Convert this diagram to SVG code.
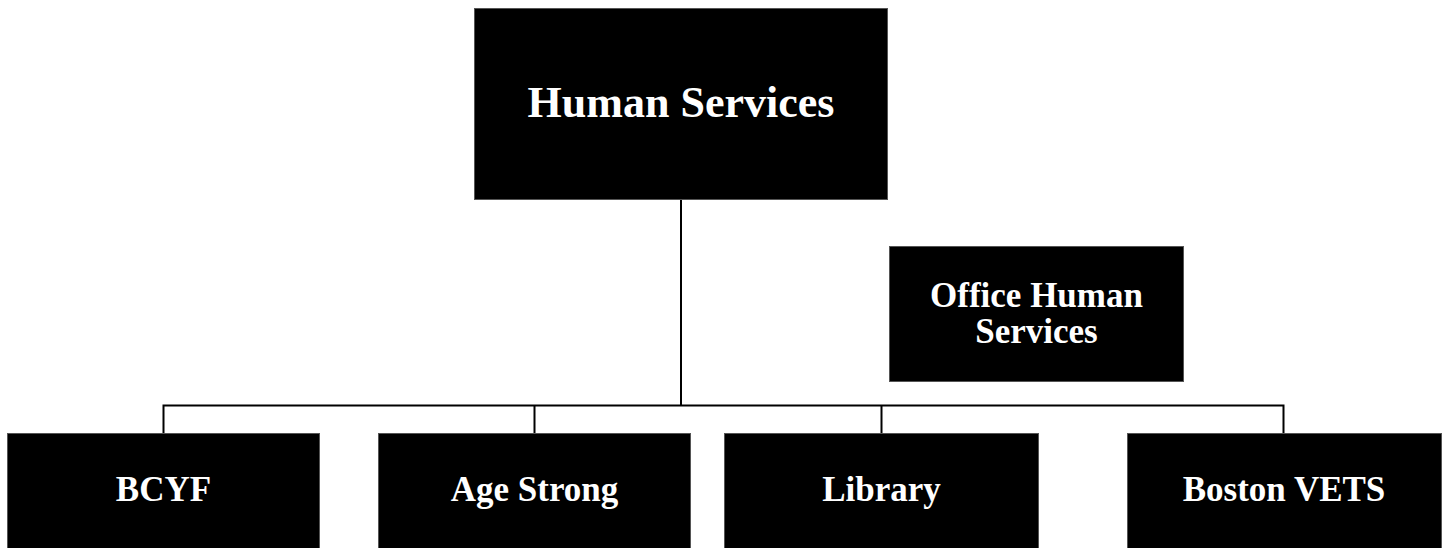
<svg xmlns="http://www.w3.org/2000/svg" width="1442" height="548" viewBox="0 0 1442 548">
<style>
.box{fill:#000;stroke:#555;stroke-width:1}
.lbl{fill:#fff;font-family:"Liberation Serif","Times New Roman",serif;font-weight:bold;text-anchor:middle}
.conn{fill:none;stroke:#000;stroke-width:2}
</style>
<rect width="1442" height="548" fill="#fff"/>
<g id="connectors">
<path class="conn" d="M681 200 V405.5"/>
<path class="conn" d="M163.5 433 V405.5 H1283.5 V433"/>
<path class="conn" d="M534.5 405.5 V433"/>
<path class="conn" d="M881.5 405.5 V433"/>
</g>
<g id="human-services">
<rect class="box" x="474.5" y="8.5" width="413" height="191"/>
<text class="lbl" x="681" y="117" font-size="44">Human Services</text>
</g>
<g id="office-human-services">
<rect class="box" x="889.5" y="246.5" width="294" height="135"/>
<text class="lbl" x="1036.5" y="307" font-size="35">Office Human</text>
<text class="lbl" x="1036.5" y="343" font-size="35">Services</text>
</g>
<g id="bcyf">
<rect class="box" x="7.5" y="433.5" width="312" height="120"/>
<text class="lbl" x="163.5" y="501" font-size="35">BCYF</text>
</g>
<g id="age-strong">
<rect class="box" x="378.5" y="433.5" width="312" height="120"/>
<text class="lbl" x="534.5" y="501" font-size="35">Age Strong</text>
</g>
<g id="library">
<rect class="box" x="724.5" y="433.5" width="314" height="120"/>
<text class="lbl" x="881.5" y="501" font-size="35">Library</text>
</g>
<g id="boston-vets">
<rect class="box" x="1127.5" y="433.5" width="314" height="120"/>
<text class="lbl" x="1284" y="501" font-size="35">Boston VETS</text>
</g>
</svg>
